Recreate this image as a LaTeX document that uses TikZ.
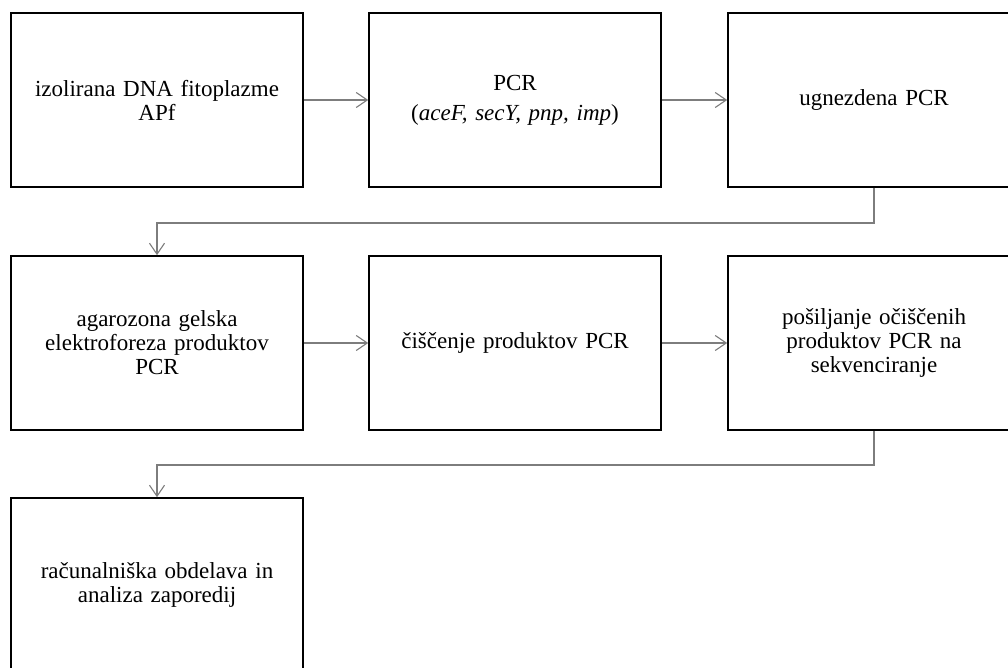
\documentclass[tikz,border=0pt]{standalone}
\usepackage{fontspec}
\setmainfont{Liberation Serif}
\usetikzlibrary{arrows.meta}
\definecolor{conn}{RGB}{125,125,125}
\begin{document}
\begin{tikzpicture}[x=1pt,y=-1pt,
  box/.style={draw=black,line width=1.6pt,minimum width=292pt,minimum height=174pt,
    text width=275pt,align=center,inner sep=0pt,
    font=\fontsize{23}{24}\selectfont},
  link/.style={draw=conn,line width=1.2pt,-{Straight Barb[length=11pt,width=15pt,line width=1.1pt]}}]
\useasboundingbox (0,0) rectangle (1008,668);
\clip (0,0) rectangle (1008,668);
\fill[white] (0,0) rectangle (1008,668);
\node[box] (a) at (157,100) {izolirana DNA fitoplazme\\APf};
\node[box] (b) at (515,100) {PCR\\[6pt](\textit{aceF, secY, pnp, imp})};
\node[box] (c) at (874,100) {ugnezdena PCR};
\node[box] (d) at (157,343) {agarozona gelska\\elektroforeza produktov\\PCR};
\node[box] (e) at (515,343) {čiščenje produktov PCR};
\node[box] (f) at (874,343) {pošiljanje očiščenih\\produktov PCR na\\sekvenciranje};
\node[box] (g) at (157,585) {računalniška obdelava in\\analiza zaporedij};
\coordinate (k1) at (874,223);
\coordinate (k2) at (157,223);
\coordinate (k3) at (874,465);
\coordinate (k4) at (157,465);
\draw[link] (a) -- (b);
\draw[link] (b) -- (c);
\draw[link] (d) -- (e);
\draw[link] (e) -- (f);
\draw[link] (c.south) -- (k1) -- (k2) -- (d.north);
\draw[link] (f.south) -- (k3) -- (k4) -- (g.north);
\end{tikzpicture}
\end{document}
